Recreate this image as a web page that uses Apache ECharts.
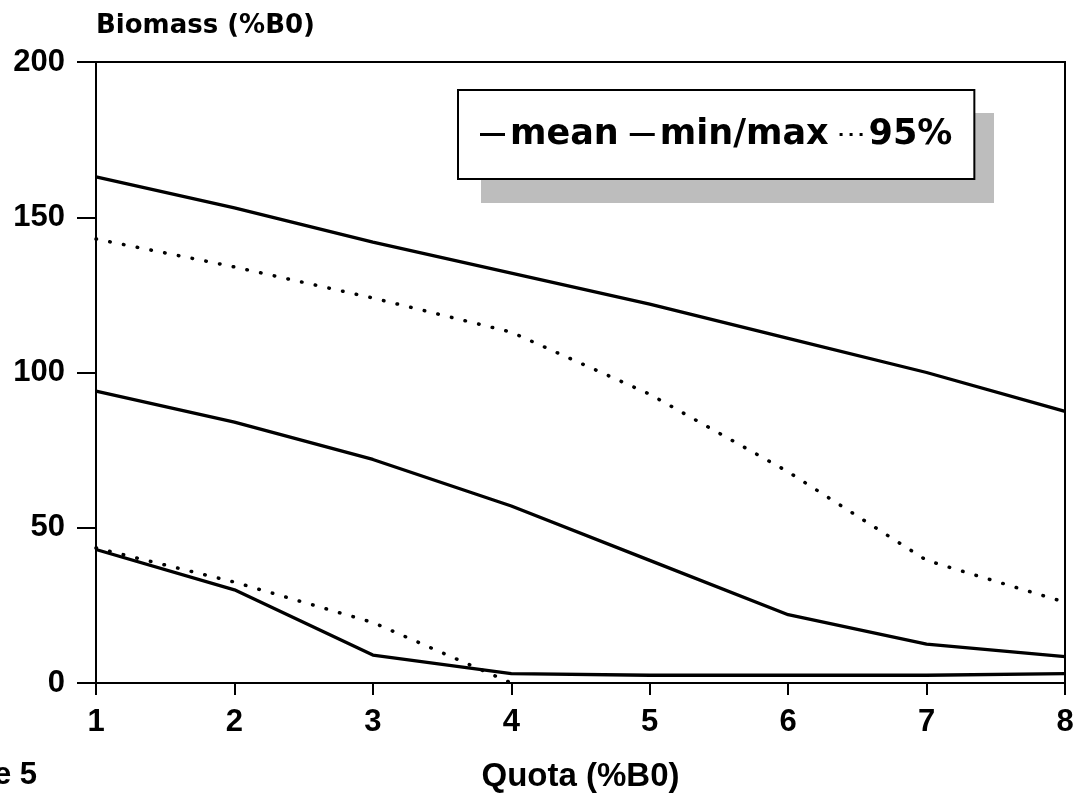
<!DOCTYPE html>
<html>
<head>
<meta charset="utf-8">
<script src="https://cdn.jsdelivr.net/npm/echarts@6/dist/echarts.min.js"></script>
<style>
  html, body { margin: 0; padding: 0; background: #fff; }
  #chart { width: 1083px; height: 800px; }
</style>
</head>
<body>
<div id="chart"></div>
<script>
// quota values (%B0)
var quota = [1, 2, 3, 4, 5, 6, 7, 8];
// biomass (%B0)
var maxVals = [163, 153, 142, 132, 122, 111, 100, 87.5];
var upper95 = [143, 134, 124, 113, 93, 68, 39.5, 26];
var meanVals = [94, 84, 72, 57, 39.5, 22, 12.5, 8.5];
var lower95 = [43.5, 32.5, 19.5, 0, null, null, null, null];
var minVals = [43, 30, 9, 3, 2.5, 2.5, 2.5, 3];
var yTicks = [0, 50, 100, 150, 200];

function pairs(vals) {
  return quota.map(function (q, i) { return [q, vals[i]]; });
}

var sans = 'Liberation Sans, Arial, sans-serif';
var wide = 'DejaVu Sans, sans-serif';
var solid = { color: '#000', width: 3.3 };
var dotted = { color: '#000', width: 3.5, type: [0.5, 13.5], cap: 'round' };

var myChart = echarts.init(document.getElementById('chart'));
myChart.setOption({
  animation: false,
  backgroundColor: '#fff',
  textStyle: { fontFamily: sans, color: '#000' },
  grid: {
    left: 96, right: 18, top: 62, bottom: 117,
    show: true, borderColor: '#000', borderWidth: 2
  },
  legend: {
    left: 458, top: 90,
    padding: [27, 22, 27, 22],
    itemGap: 11,
    itemWidth: 25,
    itemHeight: 3,
    backgroundColor: '#fff',
    borderColor: '#000',
    borderWidth: 2,
    borderRadius: 0,
    z: 5,
    textStyle: { fontSize: 35, fontWeight: 'bold', fontFamily: wide, color: '#000', padding: [0, 0, 0, 0] },
    data: [
      { name: 'mean', icon: 'rect' },
      { name: 'min/max', icon: 'rect' },
      { name: '95%', icon: 'path://M0,0h3v3h-3z M10,0h3v3h-3z M20,0h3v3h-3z' }
    ]
  },
  xAxis: {
    type: 'value',
    min: 1, max: 8, interval: 1,
    name: 'Quota (%B0)',
    nameLocation: 'middle',
    nameGap: 77,
    nameTextStyle: { fontSize: 33, fontWeight: 'bold', fontFamily: sans, color: '#000' },
    axisLine: { lineStyle: { color: '#000', width: 2 } },
    axisTick: { inside: false, length: 12, lineStyle: { color: '#000', width: 2 } },
    axisLabel: { fontSize: 31, fontWeight: 'bold', fontFamily: sans, color: '#000', margin: 24 },
    splitLine: { show: false }
  },
  yAxis: {
    type: 'value',
    min: 0, max: 200, interval: 50,
    name: 'Biomass (%B0)',
    nameLocation: 'end',
    nameGap: 23,
    nameTextStyle: { fontSize: 26, fontWeight: 'bold', fontFamily: wide, color: '#000', align: 'left' },
    axisLine: { show: true, lineStyle: { color: '#000', width: 2 } },
    axisTick: { show: true, length: 19, lineStyle: { color: '#000', width: 2 } },
    axisLabel: {
      fontSize: 31, fontWeight: 'bold', fontFamily: sans, color: '#000', margin: 31,
      formatter: function (v) { return yTicks.indexOf(v) >= 0 ? String(v) : ''; }
    },
    splitLine: { show: false }
  },
  graphic: [
    {
      // legend drop shadow
      type: 'rect', z: 1,
      shape: { x: 481, y: 113, width: 513, height: 90 },
      style: { fill: '#bdbdbd' }
    },
    {
      type: 'text', x: -6, y: 760,
      style: { text: 'e 5', fontSize: 31, fontWeight: 'bold', fill: '#000', fontFamily: sans }
    }
  ],
  series: [
    { name: 'mean', type: 'line', data: pairs(meanVals), symbol: 'none', lineStyle: solid, itemStyle: { color: '#000' } },
    { name: 'min/max', type: 'line', data: pairs(maxVals), symbol: 'none', lineStyle: solid, itemStyle: { color: '#000' } },
    { name: 'min/max', type: 'line', data: pairs(minVals), symbol: 'none', lineStyle: solid, itemStyle: { color: '#000' } },
    { name: '95%', type: 'line', data: pairs(upper95), symbol: 'none', lineStyle: dotted, itemStyle: { color: '#000' } },
    { name: '95%', type: 'line', data: pairs(lower95), symbol: 'none', lineStyle: dotted, itemStyle: { color: '#000' } }
  ]
});
</script>
</body>
</html>
